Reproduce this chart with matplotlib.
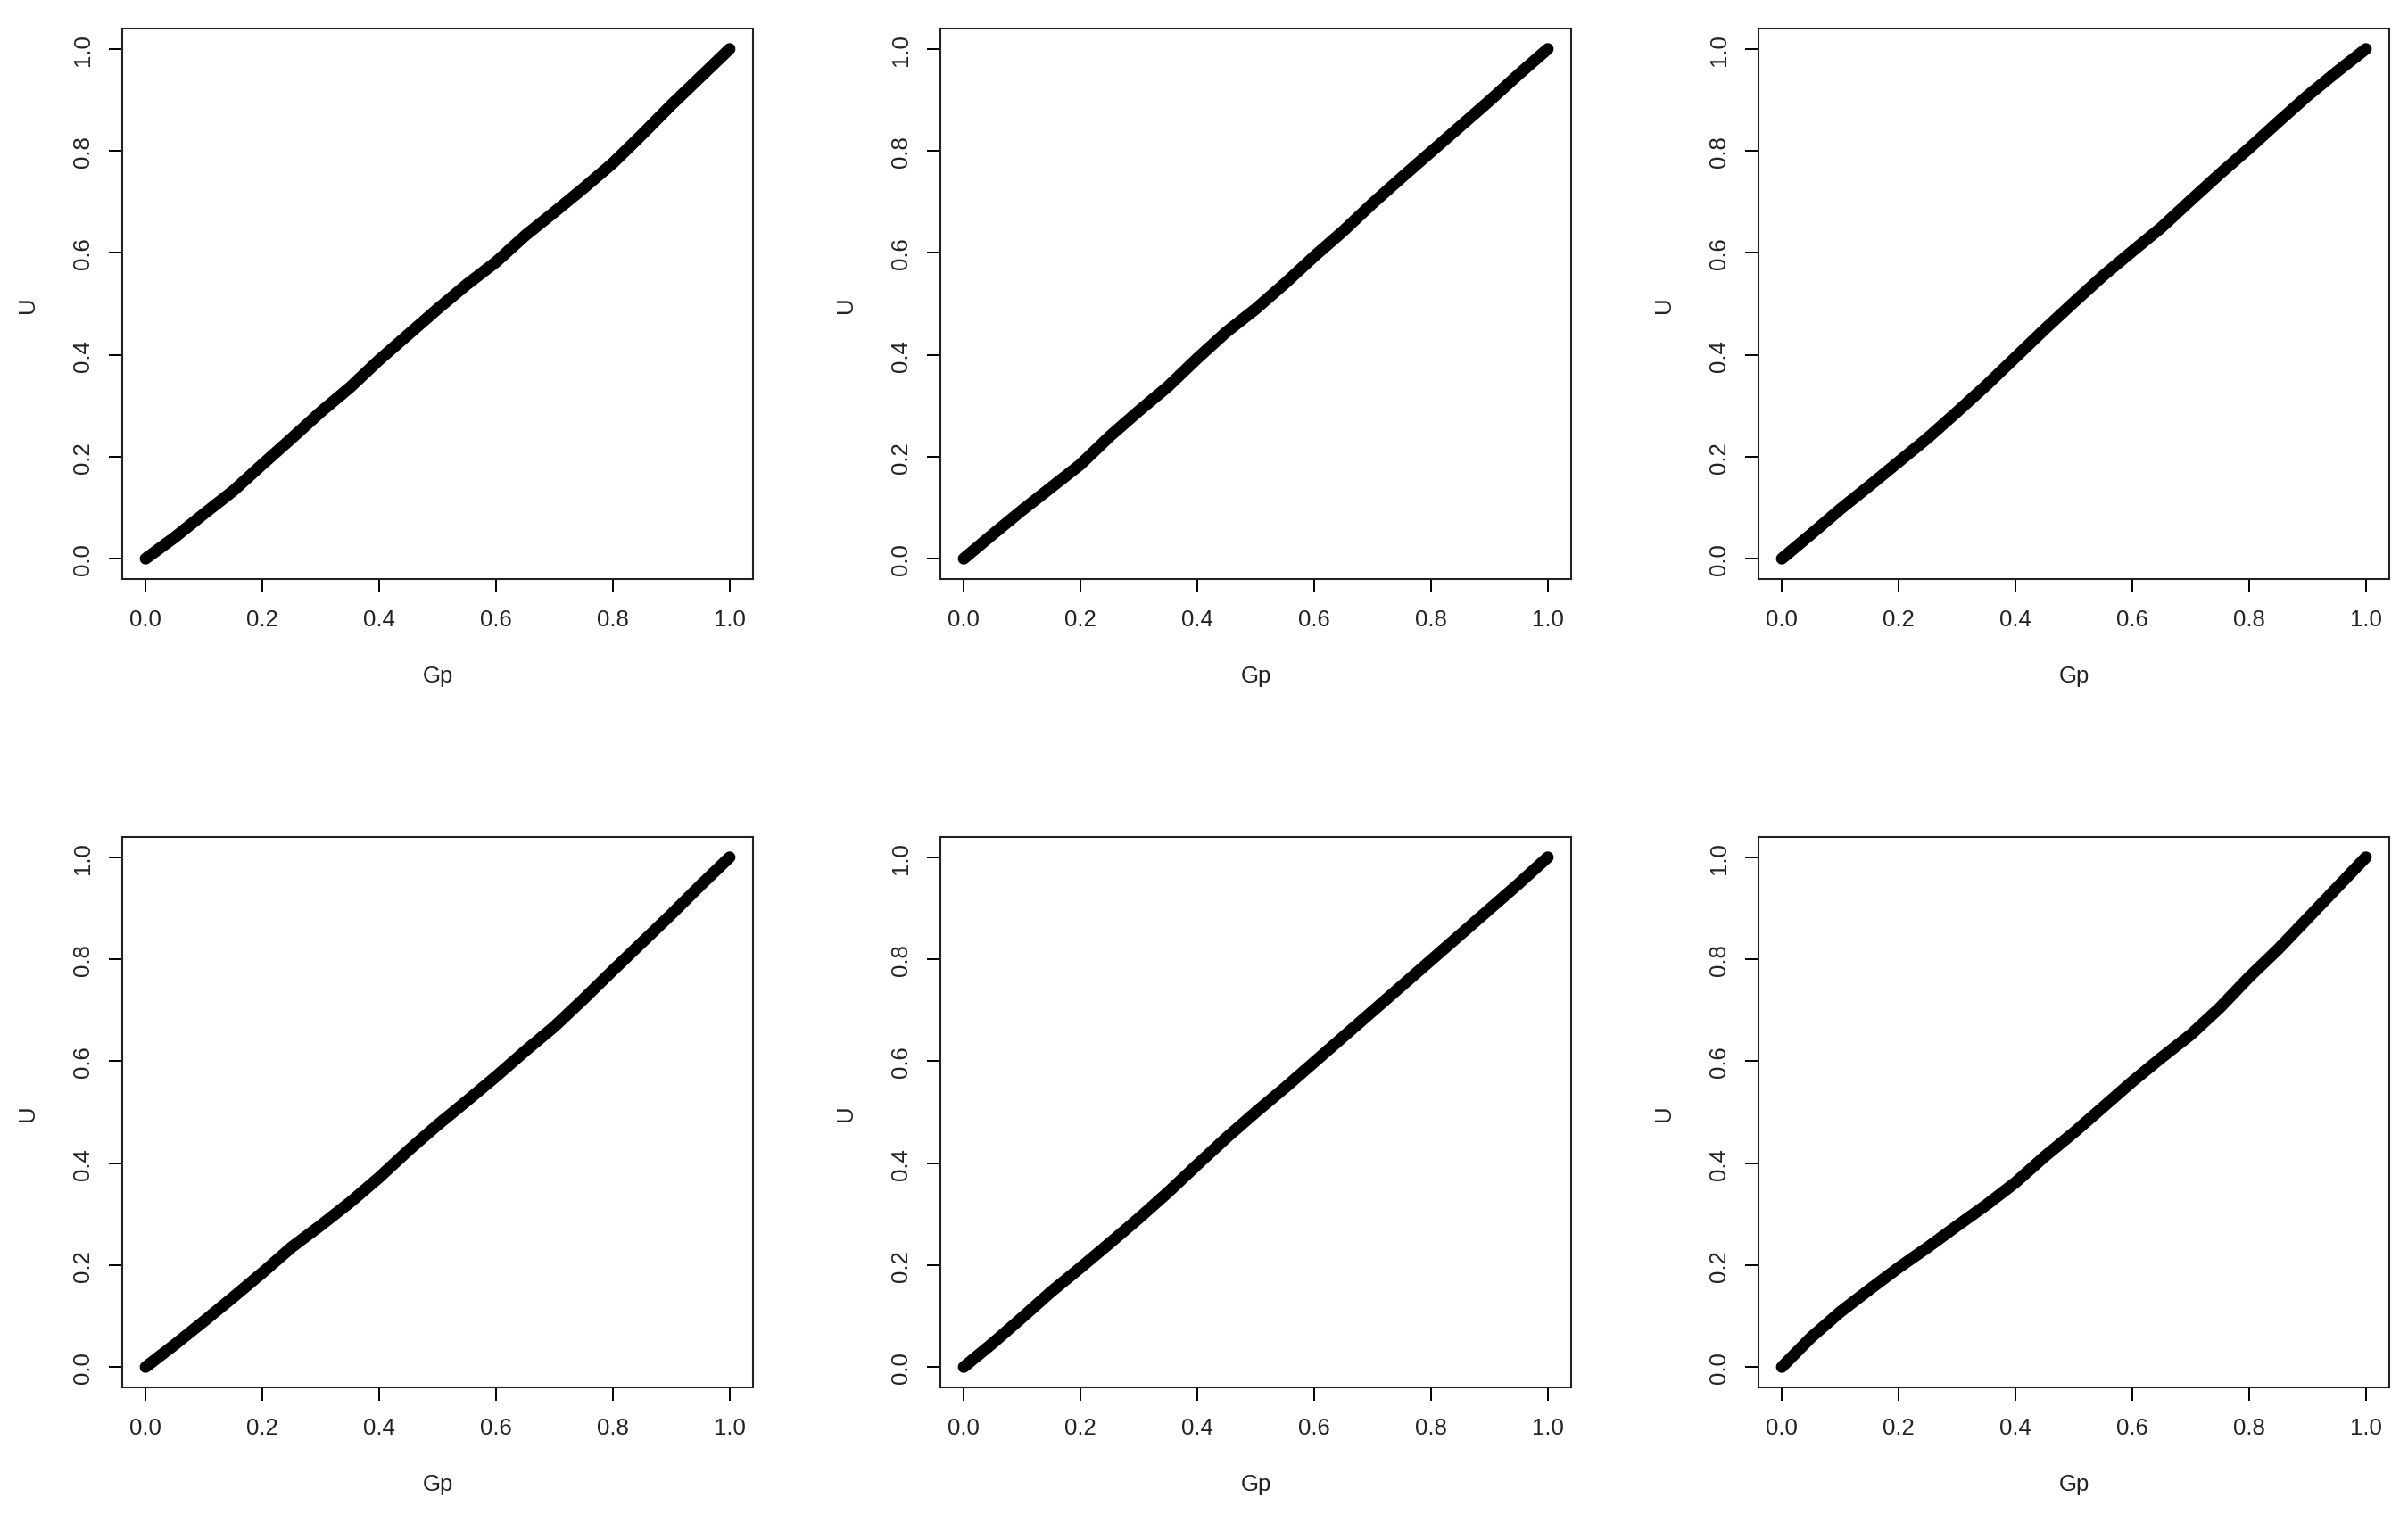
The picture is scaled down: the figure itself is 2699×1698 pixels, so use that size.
import matplotlib
matplotlib.use("Agg")
import matplotlib.pyplot as plt

plt.rcParams['font.family'] = ['Liberation Sans', 'DejaVu Sans']

# Gp grid, U values per panel (left->right, top->bottom)
gp = [0.0, 0.05, 0.1, 0.15, 0.2, 0.25, 0.3, 0.35, 0.4, 0.45, 0.5,
      0.55, 0.6, 0.65, 0.7, 0.75, 0.8, 0.85, 0.9, 0.95, 1.0]
u1 = [0.0, 0.042, 0.088, 0.133, 0.185, 0.236, 0.288, 0.336, 0.39, 0.44, 0.49,
      0.538, 0.582, 0.634, 0.68, 0.727, 0.776, 0.832, 0.89, 0.945, 1.0]
u2 = [0.0, 0.048, 0.095, 0.14, 0.185, 0.24, 0.29, 0.338, 0.393, 0.445, 0.49,
      0.54, 0.593, 0.643, 0.697, 0.748, 0.798, 0.848, 0.898, 0.95, 1.0]
u3 = [0.0, 0.048, 0.097, 0.143, 0.19, 0.237, 0.288, 0.34, 0.395, 0.45, 0.503,
      0.555, 0.603, 0.65, 0.703, 0.755, 0.805, 0.857, 0.908, 0.955, 1.0]
u4 = [0.0, 0.044, 0.09, 0.137, 0.185, 0.235, 0.278, 0.323, 0.372, 0.425, 0.475,
      0.522, 0.57, 0.62, 0.668, 0.722, 0.778, 0.833, 0.888, 0.945, 1.0]
u5 = [0.0, 0.047, 0.097, 0.148, 0.195, 0.243, 0.292, 0.343, 0.397, 0.45, 0.5,
      0.548, 0.598, 0.648, 0.698, 0.748, 0.798, 0.848, 0.898, 0.948, 1.0]
u6 = [0.0, 0.058, 0.108, 0.152, 0.195, 0.235, 0.277, 0.318, 0.362, 0.413, 0.46,
      0.51, 0.56, 0.607, 0.652, 0.705, 0.765, 0.82, 0.88, 0.94, 1.0]
panels = [u1, u2, u3, u4, u5, u6]
ticks = [0.0, 0.2, 0.4, 0.6, 0.8, 1.0]
tick_labels = ['0.0', '0.2', '0.4', '0.6', '0.8', '1.0']

W, H = 2699, 1699
fig = plt.figure(figsize=(W / 100, H / 100), dpi=100)

lefts = [137, 1054, 1971]
tops = [33, 939]
aw, ah = 707, 617

for i, u in enumerate(panels):
    r, c = divmod(i, 3)
    ax = fig.add_axes([lefts[c] / W, (H - tops[r] - ah) / H, aw / W, ah / H])
    ax.plot(gp, u, color='black', lw=9.5, solid_capstyle='round',
            solid_joinstyle='round')
    ax.set_xlim(-0.04, 1.04)
    ax.set_ylim(-0.04, 1.04)
    ax.set_xticks(ticks)
    ax.set_xticklabels(tick_labels)
    ax.set_yticks(ticks)
    ax.set_yticklabels(tick_labels, rotation=90, va='center')
    ax.tick_params(length=10.8, width=1.4, labelsize=18.5, color='black',
                   labelcolor='#222222')
    ax.tick_params(axis='x', pad=13)
    ax.tick_params(axis='y', pad=12)
    for s in ax.spines.values():
        s.set_linewidth(1.5)
        s.set_color('#222222')
    ax.set_xlabel('Gp', fontsize=18.5, color='#222222')
    ax.set_ylabel('U', fontsize=18.5, color='#222222')
    ax.xaxis.set_label_coords(0.5, -108 / ah)
    ax.yaxis.set_label_coords(-106 / aw, 0.5)
    ax.xaxis.label.set_va('center')
    ax.yaxis.label.set_va('center')

fig.savefig('out.png', dpi=100, facecolor='white')
